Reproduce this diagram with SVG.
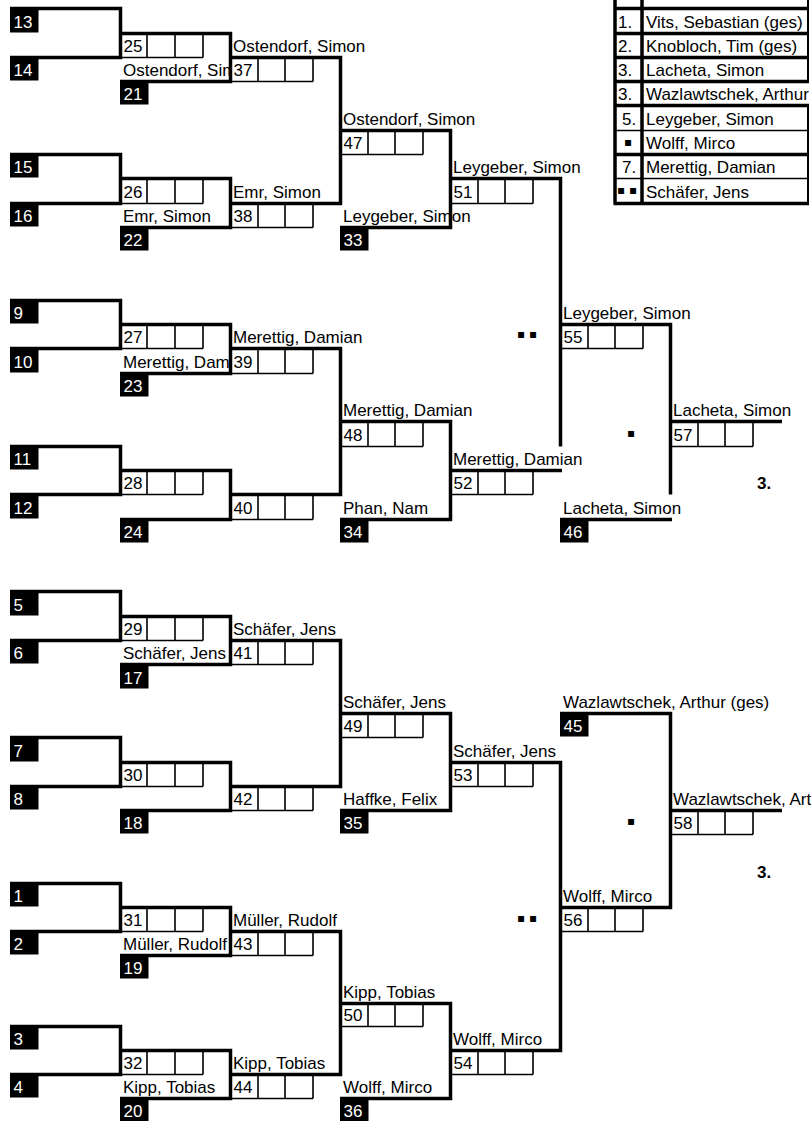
<svg xmlns="http://www.w3.org/2000/svg" width="811" height="1121" viewBox="0 0 811 1121">
<style>
.k{fill:none;stroke:#000;stroke-width:3.5;stroke-linejoin:miter}
.n{fill:none;stroke:#000;stroke-width:1.6}
.tn{fill:none;stroke:#000;stroke-width:2}
.b{fill:#000}
text{font-family:"Liberation Sans",Arial,sans-serif;font-size:17px;fill:#000}
.w{fill:#fff}
.bd{font-weight:bold}
.m{font-family:"DejaVu Sans",sans-serif;font-size:12px}
</style>
<defs>
<clipPath id="cB"><rect x="110" y="0" width="119" height="1121"/></clipPath>
</defs>
<rect width="811" height="1121" fill="#fff"/>

<g id="connectors">
<path class="k" d="M10,8.5H120.5V57.5H10M10,154.5H120.5V203.5H10M10,300.5H120.5V348.5H10M10,446.5H120.5V494.5H10M10,591.5H120.5V640.5H10M10,737.5H120.5V786.5H10M10,883.5H120.5V931.5H10M10,1026.5H120.5V1074.5H10"/>
<path class="k" d="M120,33.5H230.5V81.5H120M120,178.5H230.5V227.5H120M120,324.5H230.5V373.5H120M120,470.5H230.5V519.5H120M120,616.5H230.5V664.5H120M120,762.5H230.5V810.5H120M120,907.5H230.5V955.5H120M120,1050.5H230.5V1098.5H120"/>
<path class="k" d="M230,57.5H340.5V203.5H230M230,348.5H340.5V494.5H230M230,640.5H340.5V786.5H230M230,931.5H340.5V1074.5H230"/>
<path class="k" d="M340,130.5H450.5V227.5H340M340,421.5H450.5V519.5H340M340,713.5H450.5V810.5H340M340,1003.5H450.5V1098.5H340"/>
<path class="k" d="M450,178.5H560.5V446.5M450,470.5H562M450,762.5H560.5V1050.5H450"/>
<path class="k" d="M560,324.5H670.5V494.5M560,519.5H672M560,713.5H670.5V907.5H560"/>
<path class="k" d="M670,421.5H782M670,810.5H782"/>
</g>

<g id="seeds">
<g id="s13"><rect class="b" x="10" y="10" width="28.5" height="22.5"/><text class="w" x="13.5" y="28">13</text></g>
<g id="s14"><rect class="b" x="10" y="59" width="28.5" height="21.5"/><text class="w" x="13.5" y="76">14</text></g>
<g id="s15"><rect class="b" x="10" y="156" width="28.5" height="21.5"/><text class="w" x="13.5" y="173">15</text></g>
<g id="s16"><rect class="b" x="10" y="205" width="28.5" height="21.5"/><text class="w" x="13.5" y="222">16</text></g>
<g id="s9"><rect class="b" x="10" y="302" width="28.5" height="21.5"/><text class="w" x="13.5" y="319">9</text></g>
<g id="s10"><rect class="b" x="10" y="350" width="28.5" height="22.5"/><text class="w" x="13.5" y="368">10</text></g>
<g id="s11"><rect class="b" x="10" y="448" width="28.5" height="21.5"/><text class="w" x="13.5" y="465">11</text></g>
<g id="s12"><rect class="b" x="10" y="496" width="28.5" height="22.5"/><text class="w" x="13.5" y="514">12</text></g>
<g id="s5"><rect class="b" x="10" y="593" width="28.5" height="22.5"/><text class="w" x="13.5" y="611">5</text></g>
<g id="s6"><rect class="b" x="10" y="642" width="28.5" height="21.5"/><text class="w" x="13.5" y="659">6</text></g>
<g id="s7"><rect class="b" x="10" y="739" width="28.5" height="22.5"/><text class="w" x="13.5" y="757">7</text></g>
<g id="s8"><rect class="b" x="10" y="788" width="28.5" height="21.5"/><text class="w" x="13.5" y="805">8</text></g>
<g id="s1"><rect class="b" x="10" y="885" width="28.5" height="21.5"/><text class="w" x="13.5" y="902">1</text></g>
<g id="s2"><rect class="b" x="10" y="933" width="28.5" height="21.5"/><text class="w" x="13.5" y="950">2</text></g>
<g id="s3"><rect class="b" x="10" y="1028" width="28.5" height="21.5"/><text class="w" x="13.5" y="1045">3</text></g>
<g id="s4"><rect class="b" x="10" y="1076" width="28.5" height="21.5"/><text class="w" x="13.5" y="1093">4</text></g>
<g id="s21"><rect class="b" x="120" y="83" width="28.5" height="21.5"/><text class="w" x="123.5" y="100">21</text></g>
<g id="s22"><rect class="b" x="120" y="229" width="28.5" height="21.5"/><text class="w" x="123.5" y="246">22</text></g>
<g id="s23"><rect class="b" x="120" y="375" width="28.5" height="21.5"/><text class="w" x="123.5" y="392">23</text></g>
<g id="s24"><rect class="b" x="120" y="521" width="28.5" height="21.5"/><text class="w" x="123.5" y="538">24</text></g>
<g id="s17"><rect class="b" x="120" y="666" width="28.5" height="22.5"/><text class="w" x="123.5" y="684">17</text></g>
<g id="s18"><rect class="b" x="120" y="812" width="28.5" height="21.5"/><text class="w" x="123.5" y="829">18</text></g>
<g id="s19"><rect class="b" x="120" y="957" width="28.5" height="21.5"/><text class="w" x="123.5" y="974">19</text></g>
<g id="s20"><rect class="b" x="120" y="1100" width="28.5" height="21.5"/><text class="w" x="123.5" y="1117">20</text></g>
<g id="s33"><rect class="b" x="340" y="229" width="28.5" height="21.5"/><text class="w" x="343.5" y="246">33</text></g>
<g id="s34"><rect class="b" x="340" y="521" width="28.5" height="21.5"/><text class="w" x="343.5" y="538">34</text></g>
<g id="s35"><rect class="b" x="340" y="812" width="28.5" height="21.5"/><text class="w" x="343.5" y="829">35</text></g>
<g id="s36"><rect class="b" x="340" y="1100" width="28.5" height="21.5"/><text class="w" x="343.5" y="1117">36</text></g>
<g id="s46"><rect class="b" x="560" y="521" width="28.5" height="21.5"/><text class="w" x="563.5" y="538">46</text></g>
<g id="s45"><rect class="b" x="560" y="715" width="28.5" height="21.5"/><text class="w" x="563.5" y="732">45</text></g>
</g>

<g id="matches">
<g id="m25"><path class="n" d="M147,33.5V57.5M175,33.5V57.5M203,33.5V57.5M120,57.5H203"/><text x="123.5" y="52">25</text></g>
<g id="m26"><path class="n" d="M147,178.5V203.5M175,178.5V203.5M203,178.5V203.5M120,203.5H203"/><text x="123.5" y="198">26</text></g>
<g id="m27"><path class="n" d="M147,324.5V348.5M175,324.5V348.5M203,324.5V348.5M120,348.5H203"/><text x="123.5" y="343">27</text></g>
<g id="m28"><path class="n" d="M147,470.5V494.5M175,470.5V494.5M203,470.5V494.5M120,494.5H203"/><text x="123.5" y="489">28</text></g>
<g id="m29"><path class="n" d="M147,616.5V640.5M175,616.5V640.5M203,616.5V640.5M120,640.5H203"/><text x="123.5" y="635">29</text></g>
<g id="m30"><path class="n" d="M147,762.5V786.5M175,762.5V786.5M203,762.5V786.5M120,786.5H203"/><text x="123.5" y="781">30</text></g>
<g id="m31"><path class="n" d="M147,907.5V931.5M175,907.5V931.5M203,907.5V931.5M120,931.5H203"/><text x="123.5" y="926">31</text></g>
<g id="m32"><path class="n" d="M147,1050.5V1074.5M175,1050.5V1074.5M203,1050.5V1074.5M120,1074.5H203"/><text x="123.5" y="1069">32</text></g>

<g id="m37"><path class="n" d="M258,57.5V81.5M285,57.5V81.5M313,57.5V81.5M230,81.5H313"/><text x="233.5" y="76">37</text></g>
<g id="m38"><path class="n" d="M258,203.5V227.5M285,203.5V227.5M313,203.5V227.5M230,227.5H313"/><text x="233.5" y="222">38</text></g>
<g id="m39"><path class="n" d="M258,348.5V373.5M285,348.5V373.5M313,348.5V373.5M230,373.5H313"/><text x="233.5" y="368">39</text></g>
<g id="m40"><path class="n" d="M258,494.5V519.5M285,494.5V519.5M313,494.5V519.5M230,519.5H313"/><text x="233.5" y="514">40</text></g>
<g id="m41"><path class="n" d="M258,640.5V664.5M285,640.5V664.5M313,640.5V664.5M230,664.5H313"/><text x="233.5" y="659">41</text></g>
<g id="m42"><path class="n" d="M258,786.5V810.5M285,786.5V810.5M313,786.5V810.5M230,810.5H313"/><text x="233.5" y="805">42</text></g>
<g id="m43"><path class="n" d="M258,931.5V955.5M285,931.5V955.5M313,931.5V955.5M230,955.5H313"/><text x="233.5" y="950">43</text></g>
<g id="m44"><path class="n" d="M258,1074.5V1098.5M285,1074.5V1098.5M313,1074.5V1098.5M230,1098.5H313"/><text x="233.5" y="1093">44</text></g>

<g id="m47"><path class="n" d="M368,130.5V154.5M395,130.5V154.5M423,130.5V154.5M340,154.5H423"/><text x="343.5" y="149">47</text></g>
<g id="m48"><path class="n" d="M368,421.5V446.5M395,421.5V446.5M423,421.5V446.5M340,446.5H423"/><text x="343.5" y="441">48</text></g>
<g id="m49"><path class="n" d="M368,713.5V737.5M395,713.5V737.5M423,713.5V737.5M340,737.5H423"/><text x="343.5" y="732">49</text></g>
<g id="m50"><path class="n" d="M368,1003.5V1026.5M395,1003.5V1026.5M423,1003.5V1026.5M340,1026.5H423"/><text x="343.5" y="1021">50</text></g>

<g id="m51"><path class="n" d="M478,178.5V203.5M505,178.5V203.5M533,178.5V203.5M450,203.5H533"/><text x="453.5" y="198">51</text></g>
<g id="m52"><path class="n" d="M478,470.5V494.5M505,470.5V494.5M533,470.5V494.5M450,494.5H533"/><text x="453.5" y="489">52</text></g>
<g id="m53"><path class="n" d="M478,762.5V786.5M505,762.5V786.5M533,762.5V786.5M450,786.5H533"/><text x="453.5" y="781">53</text></g>
<g id="m54"><path class="n" d="M478,1050.5V1074.5M505,1050.5V1074.5M533,1050.5V1074.5M450,1074.5H533"/><text x="453.5" y="1069">54</text></g>

<g id="m55"><path class="n" d="M588,324.5V348.5M615,324.5V348.5M643,324.5V348.5M560,348.5H643"/><text x="563.5" y="343">55</text></g>
<g id="m56"><path class="n" d="M588,907.5V931.5M615,907.5V931.5M643,907.5V931.5M560,931.5H643"/><text x="563.5" y="926">56</text></g>

<g id="m57"><path class="n" d="M698,421.5V446.5M725,421.5V446.5M753,421.5V446.5M670,446.5H753"/><text x="673.5" y="441">57</text></g>
<g id="m58"><path class="n" d="M698,810.5V834.5M725,810.5V834.5M753,810.5V834.5M670,834.5H753"/><text x="673.5" y="829">58</text></g>
</g>

<g id="labels">
<g clip-path="url(#cB)">
<text x="123" y="76">Ostendorf, Simon</text>
<text x="123" y="368">Merettig, Damian</text>
<text x="123" y="950">Müller, Rudolf</text>
</g>
<text x="123" y="222">Emr, Simon</text>
<text x="123" y="659">Schäfer, Jens</text>
<text x="123" y="1093">Kipp, Tobias</text>

<text x="233" y="52">Ostendorf, Simon</text>
<text x="233" y="198">Emr, Simon</text>
<text x="233" y="343">Merettig, Damian</text>
<text x="233" y="635">Schäfer, Jens</text>
<text x="233" y="926">Müller, Rudolf</text>
<text x="233" y="1069">Kipp, Tobias</text>

<text x="343" y="125">Ostendorf, Simon</text>
<text x="343" y="222">Leygeber, Simon</text>
<text x="343" y="416">Merettig, Damian</text>
<text x="343" y="514">Phan, Nam</text>
<text x="343" y="708">Schäfer, Jens</text>
<text x="343" y="805">Haffke, Felix</text>
<text x="343" y="998">Kipp, Tobias</text>
<text x="343" y="1093">Wolff, Mirco</text>

<text x="453" y="173">Leygeber, Simon</text>
<text x="453" y="465">Merettig, Damian</text>
<text x="453" y="757">Schäfer, Jens</text>
<text x="453" y="1045">Wolff, Mirco</text>

<text x="563" y="319">Leygeber, Simon</text>
<text x="563" y="514">Lacheta, Simon</text>
<text x="563" y="708">Wazlawtschek, Arthur (ges)</text>
<text x="563" y="902">Wolff, Mirco</text>

<text x="673" y="416">Lacheta, Simon</text>
<text x="673" y="805">Wazlawtschek, Arthur (ges)</text>

<text class="m" x="517" y="338">▪ ▪</text>
<text class="m" x="517" y="922">▪ ▪</text>
<text class="m" x="627" y="437">▪</text>
<text class="m" x="627" y="825">▪</text>
<text class="bd" x="757" y="489">3.</text>
<text class="bd" x="757" y="878">3.</text>
</g>

<g id="ranking">
<path class="k" d="M615,0V203.5M642,0V203.5M613.5,8.5H809M613.5,33.5H809M613.5,57.5H809M613.5,81.5H809M613.5,105.5H809M613.5,154.5H809M613.5,203.5H809"/>
<path class="n" d="M615,130.5H808M615,178.5H808"/>
<path class="tn" d="M808,0V81.5M808,105.5V203.5"/>
<text x="618" y="28">1.</text><text x="646" y="28">Vits, Sebastian (ges)</text>
<text x="618" y="52">2.</text><text x="646" y="52">Knobloch, Tim (ges)</text>
<text x="618" y="76">3.</text><text x="646" y="76">Lacheta, Simon</text>
<text x="618" y="100">3.</text><text x="646" y="100">Wazlawtschek, Arthur (ges)</text>
<text x="622" y="125">5.</text><text x="646" y="125">Leygeber, Simon</text>
<text class="m" x="624" y="146">▪</text><text x="646" y="149">Wolff, Mirco</text>
<text x="622" y="173">7.</text><text x="646" y="173">Merettig, Damian</text>
<text class="m" x="617" y="194">▪ ▪</text><text x="646" y="198">Schäfer, Jens</text>
</g>
</svg>
